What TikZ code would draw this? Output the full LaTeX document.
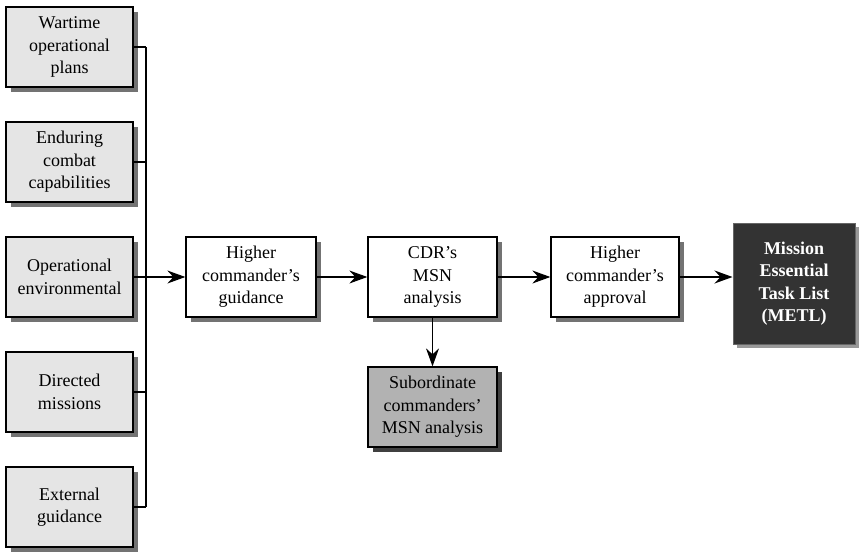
\documentclass[tikz,border=0pt]{standalone}
\usepackage{fontspec}
\setmainfont{Liberation Serif}
\usetikzlibrary{shadows,arrows.meta}
\begin{document}
\begin{tikzpicture}[x=1pt,y=-1pt,
  every node/.style={font=\rmfamily\fontsize{18}{22.5}\selectfont, align=center, inner sep=0pt},
  boxbase/.style={draw=black, line width=1.3pt, minimum height=80pt,
    drop shadow={shadow xshift=5pt, shadow yshift=-5pt, fill=black!55, opacity=1}},
  srcbox/.style={boxbase, fill=black!10, minimum width=127pt},
  procbox/.style={boxbase, fill=white, minimum width=129pt},
  subbox/.style={draw=black, line width=1.3pt, minimum height=80pt, minimum width=129pt, fill=black!30,
    drop shadow={shadow xshift=5pt, shadow yshift=-5pt, fill=black!75, opacity=1}},
  metlbox/.style={draw=black!60, line width=1pt, fill=black!80, text=white, font=\rmfamily\fontsize{18}{22.5}\selectfont\bfseries,
    minimum width=122pt, minimum height=121pt,
    drop shadow={shadow xshift=4pt, shadow yshift=-4pt, fill=black!40, opacity=1}},
  conn/.style={line width=1.2pt},
  arr/.style={conn, -{Stealth[length=18pt, width=13pt, inset=6pt]}}
]
\useasboundingbox (0,0) rectangle (861,552);

\node[srcbox] (s1) at (69.5,47) {Wartime\\operational\\plans};
\node[srcbox] (s2) at (69.5,162) {Enduring\\combat\\capabilities};
\node[srcbox] (s3) at (69.5,277) {Operational\\environmental};
\node[srcbox] (s4) at (69.5,392) {Directed\\missions};
\node[srcbox] (s5) at (69.5,507) {External\\guidance};

\coordinate (bt) at (146,47);
\coordinate (bb) at (146,507);
\coordinate (bm) at (146,277);

\node[procbox, minimum width=130pt] (hcg) at (251,277) {Higher\\commander's\\guidance};
\node[procbox] (cdr) at (432.5,277) {CDR's\\MSN\\analysis};
\node[procbox, minimum width=128pt] (app) at (615,277) {Higher\\commander's\\approval};
\node[subbox] (sub) at (432.5,407) {Subordinate\\commanders'\\MSN analysis};
\node[metlbox] (metl) at (794,283.5) {Mission\\Essential\\Task List\\(METL)};

\draw[conn] (bt) -- (bb);
\foreach \s in {s1,s2,s3,s4,s5} \draw[conn] (\s.east) -- (\s.east -| bt);
\draw[arr] (bm) -- (hcg.west);
\draw[arr] (hcg.east) -- (cdr.west);
\draw[arr] (cdr.east) -- (app.west);
\draw[arr] (app.east) -- (app.east -| metl.west);
\draw[arr] (cdr.south) -- (sub.north);
\end{tikzpicture}
\end{document}
